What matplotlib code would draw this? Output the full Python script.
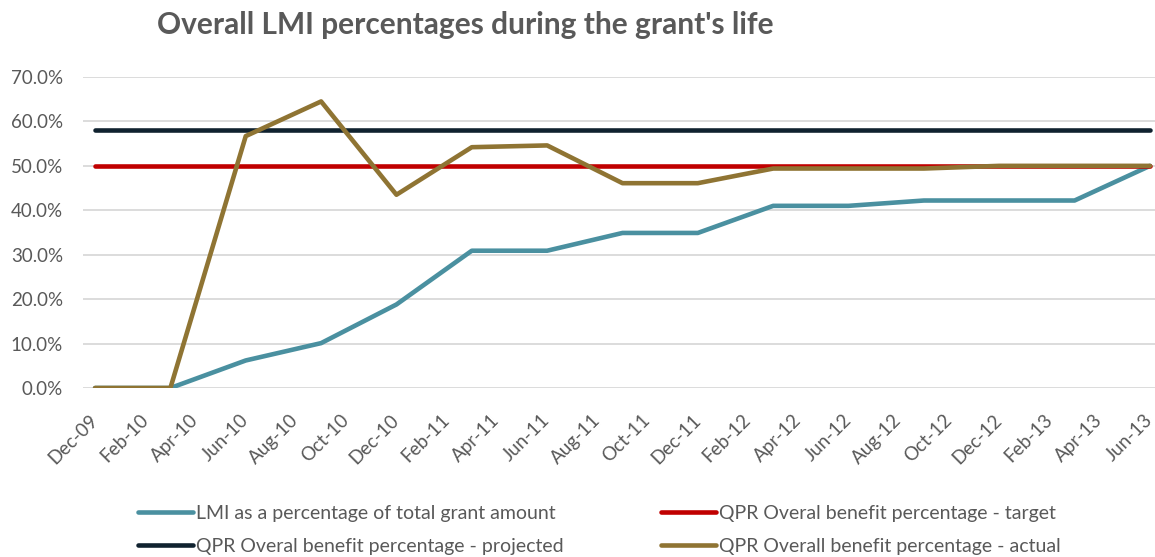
import matplotlib
matplotlib.use("Agg")
import matplotlib.pyplot as plt
import numpy as np

plt.rcParams['font.family'] = ['Lato', 'DejaVu Sans']

# quarterly data points (month, year)
dates = ['Dec-09', 'Mar-10', 'Jun-10', 'Sep-10', 'Dec-10', 'Mar-11', 'Jun-11', 'Sep-11',
         'Dec-11', 'Mar-12', 'Jun-12', 'Sep-12', 'Dec-12', 'Mar-13', 'Jun-13']
lmi = [0.0, 0.0, 6.2, 10.1, 18.8, 30.9, 30.9, 34.9, 34.9, 41.0, 41.0, 42.2, 42.2, 42.2, 50.0]
target = [50.0] * 15
projected = [58.1] * 15
actual = [0.0, 0.0, 56.7, 64.5, 43.5, 54.2, 54.6, 46.1, 46.1, 49.4, 49.4, 49.4, 50.0, 50.0, 50.0]

tick_labels = ['Dec-09', 'Feb-10', 'Apr-10', 'Jun-10', 'Aug-10', 'Oct-10', 'Dec-10', 'Feb-11',
               'Apr-11', 'Jun-11', 'Aug-11', 'Oct-11', 'Dec-11', 'Feb-12', 'Apr-12', 'Jun-12',
               'Aug-12', 'Oct-12', 'Dec-12', 'Feb-13', 'Apr-13', 'Jun-13']

months = ['Jan', 'Feb', 'Mar', 'Apr', 'May', 'Jun', 'Jul', 'Aug', 'Sep', 'Oct', 'Nov', 'Dec']


def month_index(s):
    m, y = s.split('-')
    return (int(y) - 9) * 12 + months.index(m) - 11


x = [month_index(d) for d in dates]
xt = [month_index(d) for d in tick_labels]

fig = plt.figure(figsize=(11.55, 5.57), dpi=100)
ax = fig.add_axes([82.5 / 1155, 169 / 557, 1080 / 1155, 311 / 557])

lw = 3.3
ax.plot(x, np.array(lmi) / 100, color='#4A90A0', lw=lw, solid_capstyle='round', label='LMI as a percentage of total grant amount')
ax.plot(x, np.array(target) / 100, color='#C00000', lw=lw, solid_capstyle='round', label='QPR Overal benefit percentage - target')
ax.plot(x, np.array(projected) / 100, color='#10222F', lw=lw, solid_capstyle='round', label='QPR Overal benefit percentage - projected')
ax.plot(x, np.array(actual) / 100, color='#8F7433', lw=lw, solid_capstyle='round', label='QPR Overall benefit percentage - actual')

ax.set_xlim(-0.5, 42.5)
ax.set_ylim(0, 0.7)
ax.set_yticks(np.arange(0, 0.71, 0.1))
ax.set_yticklabels(['%.1f%%' % (v * 100) for v in np.arange(0, 0.71, 0.1)])
ax.set_xticks(xt)
ax.set_xticklabels(tick_labels, rotation=45, ha='right', va='center', rotation_mode='anchor')
ax.tick_params(axis='both', length=0, labelsize=13.5, labelcolor='#595959')
ax.tick_params(axis='x', pad=21)
ax.tick_params(axis='y', pad=14)
for s in ax.spines.values():
    s.set_visible(False)
ax.grid(True, axis='y', color='#D9D9D9', lw=1.3)
ax.set_axisbelow(True)

h, l = ax.get_legend_handles_labels()
order = [0, 2, 1, 3]
fig.legend([h[i] for i in order], [l[i] for i in order], ncol=2, frameon=False,
           loc='center', bbox_to_anchor=(0.519, 1 - 530 / 557), fontsize=14,
           labelcolor='#595959', handlelength=2.85, handletextpad=0.15,
           columnspacing=5.0, labelspacing=0.85)

fig.text(157 / 1155, 1 - 25 / 557, "Overall LMI percentages during the grant's life",
         fontsize=21.5, fontweight='bold', color='#595959', ha='left', va='center')

fig.savefig('out.png', dpi=100)
